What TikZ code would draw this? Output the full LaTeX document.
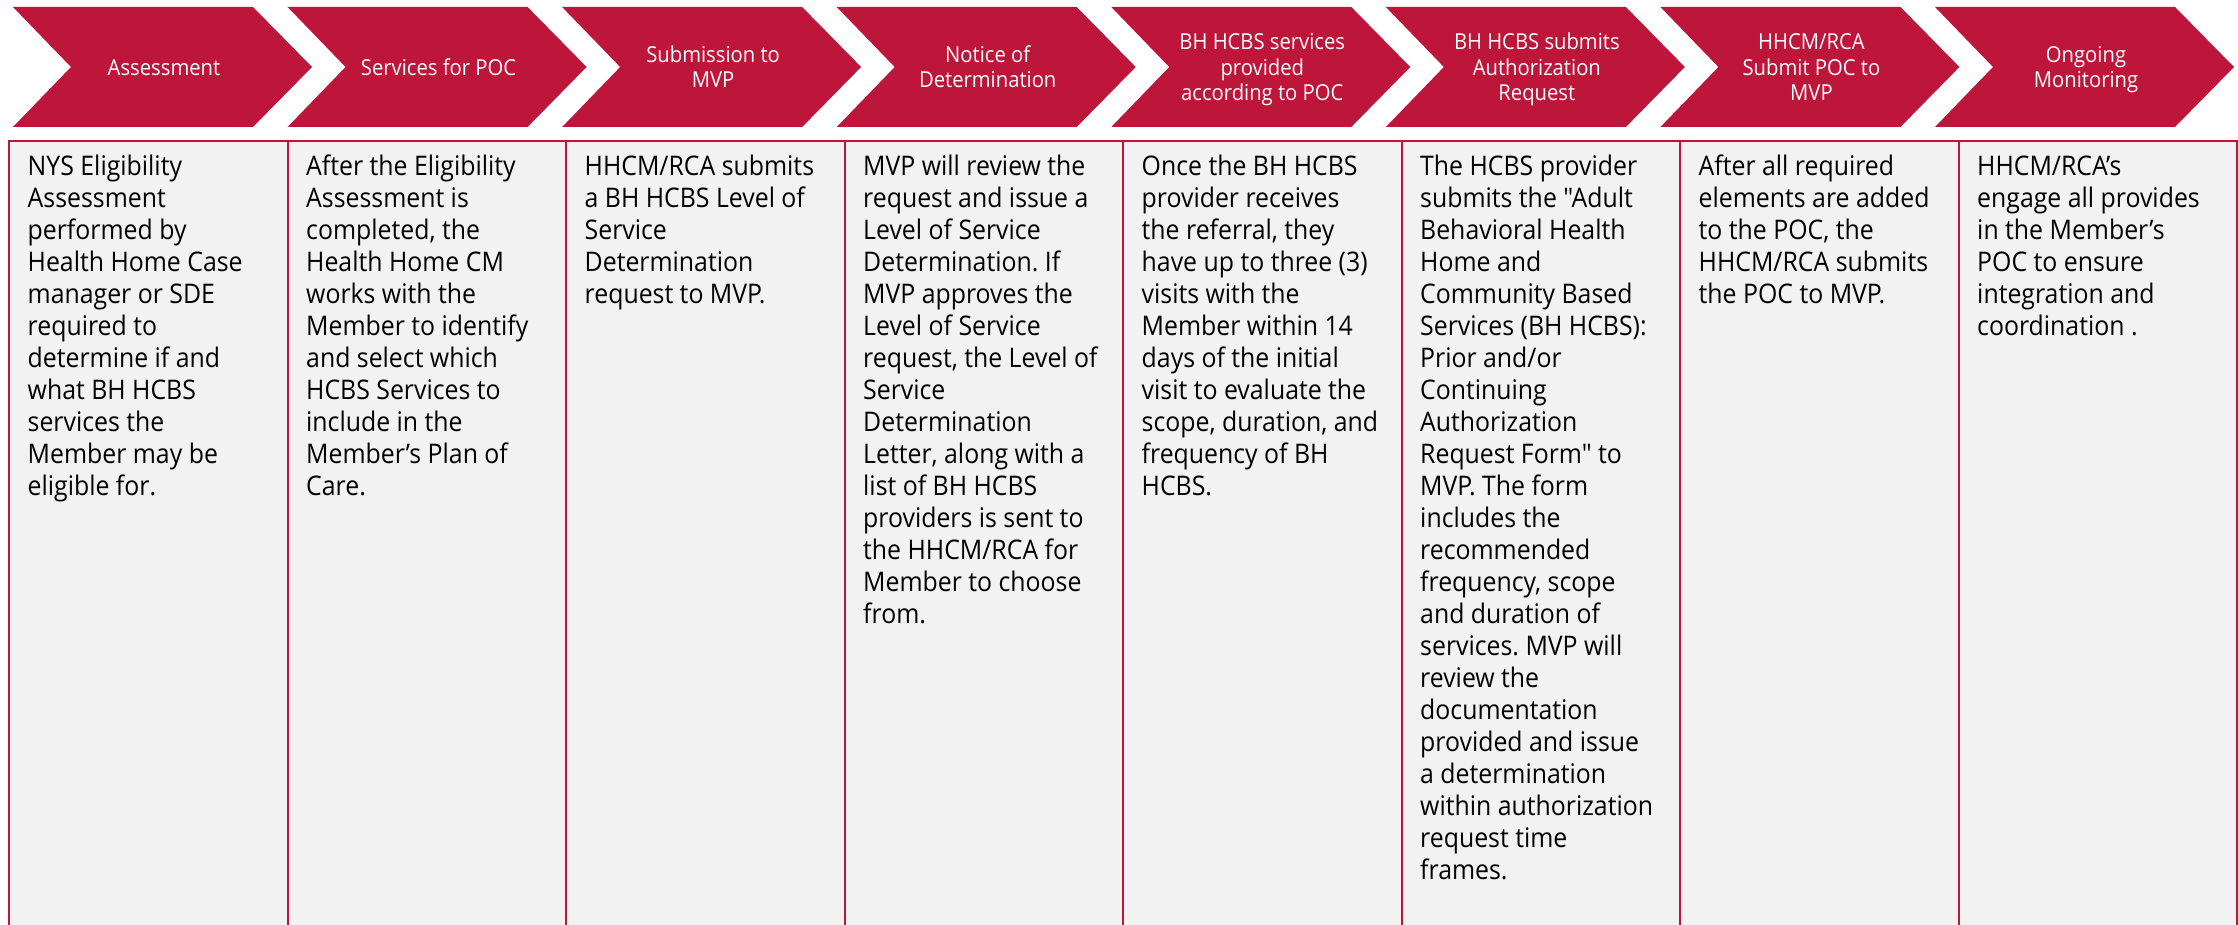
\documentclass[tikz,border=0pt]{standalone}
\usepackage{fontspec}
\newfontfamily\uifont{Open Sans}[FakeStretch=0.92]
\definecolor{crim}{RGB}{190,21,58}
\definecolor{panel}{RGB}{242,242,242}
\tikzset{
  chevron/.style={fill=crim, draw=none},
  panelbox/.style={fill=panel, draw=crim, line width=2pt, minimum width=278.5pt, minimum height=800pt, anchor=north west, inner sep=0pt},
  hdr/.style={text=white, font=\uifont\fontsize{22}{25.5}\selectfont\frenchspacing, align=center, inner sep=0pt, anchor=north},
  body/.style={text=black, font=\uifont\fontsize{27}{32}\selectfont\frenchspacing, align=left, inner sep=0pt, anchor=north west}
}
\begin{document}
\begin{tikzpicture}[x=1pt,y=-1pt]
\useasboundingbox (0,0) rectangle (2238,925);
% chevrons
\foreach \i in {0,...,7}{
  \pgfmathsetmacro\L{13+\i*274.57}
  \fill[chevron] (\L,7) -- ++(240,0) -- ++(59,60) -- ++(-59,60) -- ++(-240,0) -- ++(58,-60) -- cycle;
}
% panels
\foreach \i in {1,...,8}{
  \pgfmathsetmacro\C{8+(\i-1)*278.5}
  \node[panelbox] (b\i) at (\C,140) {};
}
% header texts
\node[hdr] (h1) at (164,57.15) {\strut Assessment};
\node[hdr] (h2) at (438.57,57.15) {\strut Services for POC};
\node[hdr] (h3) at (713.14,44.4) {\strut Submission to\\MVP};
\node[hdr] (h4) at (987.71,44.4) {\strut Notice of\\Determination};
\node[hdr] (h5) at (1262.28,31.65) {\strut BH HCBS services\\provided\\according to POC};
\node[hdr] (h6) at (1536.85,31.65) {\strut BH HCBS submits\\Authorization\\Request};
\node[hdr] (h7) at (1811.42,31.65) {\strut HHCM/RCA\\Submit POC to\\MVP};
\node[hdr] (h8) at (2085.99,44.4) {\strut Ongoing\\Monitoring};
% body texts
\node[body] (t1) at (27.5,153.3) {\strut NYS Eligibility\\Assessment\\performed by\\Health Home Case\\manager or SDE\\required to\\determine if and\\what BH HCBS\\services the\\Member may be\\eligible for.};
\node[body] (t2) at (306,153.3) {\strut After the Eligibility\\Assessment is\\completed, the\\Health Home CM\\works with the\\Member to identify\\and select which\\HCBS Services to\\include in the\\Member’s Plan of\\Care.};
\node[body] (t3) at (584.5,153.3) {\strut HHCM/RCA submits\\a BH HCBS Level of\\Service\\Determination\\request to MVP.};
\node[body] (t4) at (863,153.3) {\strut MVP will review the\\request and issue a\\Level of Service\\Determination. If\\MVP approves the\\Level of Service\\request, the Level of\\Service\\Determination\\Letter, along with a\\list of BH HCBS\\providers is sent to\\the HHCM/RCA for\\Member to choose\\from.};
\node[body] (t5) at (1141.5,153.3) {\strut Once the BH HCBS\\provider receives\\the referral, they\\have up to three (3)\\visits with the\\Member within 14\\days of the initial\\visit to evaluate the\\scope, duration, and\\frequency of BH\\HCBS.};
\node[body] (t6) at (1420,153.3) {\strut The HCBS provider\\submits the "Adult\\Behavioral Health\\Home and\\Community Based\\Services (BH HCBS):\\Prior and/or\\Continuing\\Authorization\\Request Form" to\\MVP. The form\\includes the\\recommended\\frequency, scope\\and duration of\\services. MVP will\\review the\\documentation\\provided and issue\\a determination\\within authorization\\request time\\frames.};
\node[body] (t7) at (1698.5,153.3) {\strut After all required\\elements are added\\to the POC, the\\HHCM/RCA submits\\the POC to MVP.};
\node[body] (t8) at (1977,153.3) {\strut HHCM/RCA’s\\engage all provides\\in the Member’s\\POC to ensure\\integration and\\coordination .};
\end{tikzpicture}
\end{document}
